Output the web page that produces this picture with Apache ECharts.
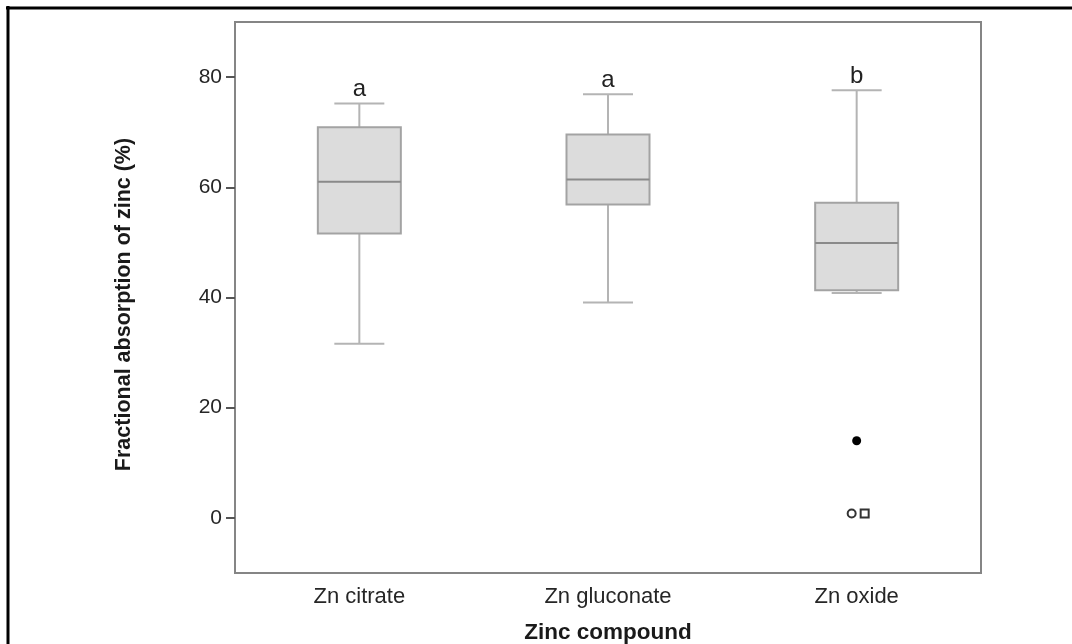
<!DOCTYPE html>
<html>
<head>
<meta charset="utf-8">
<script src="https://cdn.jsdelivr.net/npm/echarts@6/dist/echarts.min.js"></script>
<style>
    html, body { margin: 0; padding: 0; background: #fff; }
    #id-div-chart { width: 1072px; height: 644px; }
</style>
</head>
<body>
<div id="id-div-chart"></div>
<script>
var log = console.log.bind(console)

var e = (selector) => document.querySelector(selector)

// 数据, 从图上读出来的
var categories = ['Zn citrate', 'Zn gluconate', 'Zn oxide']
var lowWhisker = [31.6, 39.1, 40.8]
var lowerQuartile = [51.6, 56.9, 41.3]
var medians = [61.0, 61.4, 49.9]
var upperQuartile = [70.9, 69.6, 57.2]
var highWhisker = [75.2, 76.9, 77.6]
var letters = ['a', 'a', 'b']
var outlierFilled = [[2, 14.0]]
var outlierCircle = [[2, 0.8]]
var outlierSquare = [[2, 0.8]]
var yTicks = [0, 20, 40, 60, 80]

var font = 'Liberation Sans, Arial, Helvetica, sans-serif'

var boxData = function() {
    var list = []
    for (var i = 0; i < categories.length; i++) {
        list.push([i, lowWhisker[i], lowerQuartile[i], medians[i], upperQuartile[i], highWhisker[i]])
    }
    return list
}

var renderBox = function(params, api) {
    var i = api.value(0)
    var low = api.coord([i, api.value(1)])
    var q1 = api.coord([i, api.value(2)])
    var med = api.coord([i, api.value(3)])
    var q3 = api.coord([i, api.value(4)])
    var high = api.coord([i, api.value(5)])
    var cx = low[0]
    var bw = 83
    var cw = 50
    var whisker = {stroke: '#b4b4b4', lineWidth: 2}
    return {
        type: 'group',
        children: [
            {type: 'line', shape: {x1: cx, y1: high[1], x2: cx, y2: q3[1]}, style: whisker},
            {type: 'line', shape: {x1: cx, y1: q1[1], x2: cx, y2: low[1]}, style: whisker},
            {type: 'line', shape: {x1: cx - cw / 2, y1: high[1], x2: cx + cw / 2, y2: high[1]}, style: whisker},
            {type: 'line', shape: {x1: cx - cw / 2, y1: low[1], x2: cx + cw / 2, y2: low[1]}, style: whisker},
            {
                type: 'rect',
                shape: {x: cx - bw / 2, y: q3[1], width: bw, height: q1[1] - q3[1]},
                style: {fill: '#dcdcdc', stroke: '#a3a3a3', lineWidth: 2},
            },
            {type: 'line', shape: {x1: cx - bw / 2, y1: med[1], x2: cx + bw / 2, y2: med[1]}, style: {stroke: '#8a8a8a', lineWidth: 2}},
            {
                type: 'text',
                x: cx,
                y: high[1] - 2,
                style: {
                    text: letters[i],
                    fill: '#222',
                    font: '24px ' + font,
                    align: 'center',
                    verticalAlign: 'bottom',
                },
            },
        ],
    }
}

var formattedOption = function() {
    var option = {
        backgroundColor: '#fff',
        animation: false,
        textStyle: {fontFamily: font},
        grid: {
            left: 235,
            top: 22,
            right: 91,
            bottom: 71,
            outerBoundsMode: 'none',
            show: true,
            borderColor: '#858585',
            borderWidth: 2,
        },
        graphic: [
            {type: 'line', shape: {x1: 6, y1: 8, x2: 1072, y2: 8}, style: {stroke: '#000', lineWidth: 3}},
            {type: 'line', shape: {x1: 8, y1: 6, x2: 8, y2: 644}, style: {stroke: '#000', lineWidth: 3}},
        ],
        xAxis: {
            type: 'category',
            data: categories,
            name: 'Zinc compound',
            nameLocation: 'middle',
            nameGap: 48,
            nameTextStyle: {fontSize: 22.5, fontWeight: 'bold', color: '#1a1a1a', fontFamily: font},
            axisLine: {onZero: false, lineStyle: {color: '#858585', width: 2}},
            axisTick: {alignWithLabel: true, length: 6, lineStyle: {color: '#555', width: 1}},
            axisLabel: {fontSize: 22, color: '#262626', margin: 13, fontFamily: font},
            splitLine: {show: false},
        },
        yAxis: {
            type: 'value',
            min: -10,
            max: 90,
            name: 'Fractional absorption of zinc (%)',
            nameLocation: 'middle',
            nameGap: 100,
            nameTextStyle: {fontSize: 21.5, fontWeight: 'bold', color: '#1a1a1a', fontFamily: font, padding: [0, 14, 0, 0]},
            axisLine: {show: true, lineStyle: {color: '#858585', width: 2}},
            axisTick: {show: true, length: 9, customValues: yTicks, lineStyle: {color: '#555', width: 2}},
            axisLabel: {fontSize: 21, color: '#262626', margin: 13, customValues: yTicks, fontFamily: font},
            splitLine: {show: false},
        },
        series: [
            {
                type: 'custom',
                data: boxData(),
                encode: {x: 0, y: [1, 2, 3, 4, 5]},
                renderItem: renderBox,
                z: 2,
            },
            {
                type: 'scatter',
                data: outlierFilled,
                symbol: 'circle',
                symbolSize: 9,
                itemStyle: {color: '#000', opacity: 1},
                z: 3,
            },
            {
                type: 'scatter',
                data: outlierCircle,
                symbol: 'circle',
                symbolSize: 8,
                symbolOffset: [-5, 0],
                itemStyle: {color: '#fff', borderColor: '#333', borderWidth: 2, opacity: 1},
                z: 3,
            },
            {
                type: 'scatter',
                data: outlierSquare,
                symbol: 'rect',
                symbolSize: 8,
                symbolOffset: [8, 0],
                itemStyle: {color: '#fff', borderColor: '#333', borderWidth: 2, opacity: 1},
                z: 3,
            },
        ],
    }
    return option
}

var __main = function() {
    var chart = echarts.init(e('#id-div-chart'), null, {renderer: 'canvas'})
    chart.setOption(formattedOption())
}

__main()
</script>
</body>
</html>
